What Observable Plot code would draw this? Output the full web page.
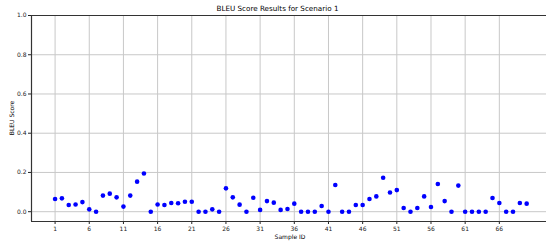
<!DOCTYPE html>
<html>
<head>
<meta charset="utf-8">
<script src="https://cdn.jsdelivr.net/npm/d3@7"></script>
<script src="https://cdn.jsdelivr.net/npm/@observablehq/plot@0.6"></script>
<style>
  html, body { margin: 0; padding: 0; background: #fff; }
  svg { display: block; font-family: "DejaVu Sans", sans-serif; }
</style>
</head>
<body>
<div id="chart"></div>
<script>
const sampleIds = d3.range(1, 71);
const bleuScores = [
  0.065, 0.068, 0.034, 0.037, 0.049, 0.012, 0.000, 0.082, 0.092, 0.073,
  0.026, 0.082, 0.153, 0.195, 0.000, 0.037, 0.034, 0.044, 0.043, 0.051,
  0.051, 0.000, 0.000, 0.012, 0.000, 0.119, 0.073, 0.036, 0.000, 0.071,
  0.009, 0.054, 0.046, 0.009, 0.014, 0.041, 0.000, 0.000, 0.000, 0.029,
  0.000, 0.136, 0.000, 0.000, 0.034, 0.034, 0.065, 0.078, 0.173, 0.098,
  0.110, 0.019, 0.000, 0.019, 0.078, 0.024, 0.141, 0.054, 0.000, 0.133,
  0.000, 0.000, 0.000, 0.000, 0.070, 0.044, 0.000, 0.000, 0.044, 0.041
];
const xTicks = [1, 6, 11, 16, 21, 26, 31, 36, 41, 46, 51, 56, 61, 66];
const yTicks = [0, 0.2, 0.4, 0.6, 0.8, 1.0];
const titleText = "BLEU Score Results for Scenario 1";
const xLabel = "Sample ID";
const yLabel = "BLEU Score";

const data = sampleIds.map((id, i) => ({id, score: bleuScores[i]}));
const xMin = -2.45, xMax = 72.9, yMin = -0.05, yMax = 1.0;

const chart = Plot.plot({
  width: 546,
  height: 245,
  marginLeft: 31,
  marginRight: 0,
  marginTop: 15,
  marginBottom: 24,
  style: {fontFamily: "DejaVu Sans, sans-serif", fontSize: "6px", color: "#222"},
  x: {domain: [xMin, xMax], ticks: xTicks, tickFormat: d => String(d), tickSize: 3, tickPadding: 2, label: null},
  y: {domain: [yMin, yMax], ticks: yTicks, tickFormat: d3.format(".1f"), tickSize: 3, tickPadding: 2, label: null},
  marks: [
    Plot.gridX(xTicks, {stroke: "#c8c8c8", strokeOpacity: 1, strokeWidth: 1}),
    Plot.gridY(yTicks, {stroke: "#c8c8c8", strokeOpacity: 1, strokeWidth: 1}),
    Plot.ruleY([yMax], {stroke: "#333", strokeWidth: 1.2}),
    Plot.ruleY([yMin], {stroke: "#333", strokeWidth: 1.2}),
    Plot.ruleX([xMin], {stroke: "#333", strokeWidth: 1.2}),
    Plot.dot(data, {x: "id", y: "score", r: 2.3, fill: "#0000ff", stroke: "none"})
  ]
});

const svg = d3.select(chart);
svg.append("text")
  .attr("x", 277.5).attr("y", 10.5)
  .attr("text-anchor", "middle")
  .attr("font-size", "7.2px").attr("fill", "#000")
  .text(titleText);
svg.append("text")
  .attr("x", 290).attr("y", 239)
  .attr("text-anchor", "middle")
  .attr("font-size", "6px").attr("fill", "#000")
  .text(xLabel);
svg.append("text")
  .attr("transform", "translate(13.5,118) rotate(-90)")
  .attr("text-anchor", "middle")
  .attr("font-size", "6px").attr("fill", "#000")
  .text(yLabel);

document.getElementById("chart").appendChild(chart);
</script>
</body>
</html>
